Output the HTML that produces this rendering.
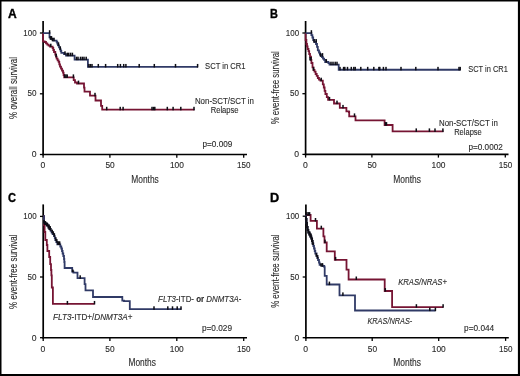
<!DOCTYPE html>
<html><head><meta charset="utf-8"><style>
html,body{margin:0;padding:0;background:#fff;}
body{width:520px;height:376px;overflow:hidden;}
svg{display:block;will-change:transform;}
text{font-family:"Liberation Sans",sans-serif;stroke:#2b2b2b;stroke-width:0.12px;}
</style></head><body>
<svg width="520" height="376" viewBox="0 0 520 376">
<rect x="0" y="0" width="520" height="376" fill="#fff"/>
<text x="8" y="17.6" font-size="12.4" textLength="8.7" lengthAdjust="spacingAndGlyphs" font-weight="bold" fill="#000" style="stroke:#000;stroke-width:0.35px">A</text>
<line x1="43.1" y1="21" x2="43.1" y2="155.3" stroke="#000" stroke-width="1.7"/>
<line x1="42.300000000000004" y1="154.5" x2="247" y2="154.5" stroke="#000" stroke-width="1.6"/>
<line x1="39.9" y1="33.0" x2="43.1" y2="33.0" stroke="#000" stroke-width="1.3"/>
<line x1="39.9" y1="93.8" x2="43.1" y2="93.8" stroke="#000" stroke-width="1.3"/>
<line x1="39.9" y1="154.5" x2="43.1" y2="154.5" stroke="#000" stroke-width="1.3"/>
<line x1="43.1" y1="154.5" x2="43.1" y2="157.7" stroke="#000" stroke-width="1.3"/>
<line x1="109.9" y1="154.5" x2="109.9" y2="157.7" stroke="#000" stroke-width="1.3"/>
<line x1="176.8" y1="154.5" x2="176.8" y2="157.7" stroke="#000" stroke-width="1.3"/>
<line x1="243.7" y1="154.5" x2="243.7" y2="157.7" stroke="#000" stroke-width="1.3"/>
<text x="36.6" y="35.7" font-size="9.0" text-anchor="end" textLength="13.3" lengthAdjust="spacingAndGlyphs" fill="#2b2b2b">100</text>
<text x="36.6" y="96.4" font-size="9.0" text-anchor="end" textLength="9.0" lengthAdjust="spacingAndGlyphs" fill="#2b2b2b">50</text>
<text x="36.6" y="157.1" font-size="9.0" text-anchor="end" textLength="4.8" lengthAdjust="spacingAndGlyphs" fill="#2b2b2b">0</text>
<text x="42.8" y="168.4" font-size="9.0" text-anchor="middle" textLength="4.8" lengthAdjust="spacingAndGlyphs" fill="#2b2b2b">0</text>
<text x="110.1" y="168.4" font-size="9.0" text-anchor="middle" textLength="9.3" lengthAdjust="spacingAndGlyphs" fill="#2b2b2b">50</text>
<text x="176.9" y="168.4" font-size="9.0" text-anchor="middle" textLength="14.0" lengthAdjust="spacingAndGlyphs" fill="#2b2b2b">100</text>
<text x="243.8" y="168.4" font-size="9.0" text-anchor="middle" textLength="13.5" lengthAdjust="spacingAndGlyphs" fill="#2b2b2b">150</text>
<text x="131.3" y="182.8" font-size="11.0" textLength="27.5" lengthAdjust="spacingAndGlyphs" fill="#2b2b2b">Months</text>
<text x="202.5" y="147" font-size="8.4" textLength="29.8" lengthAdjust="spacingAndGlyphs" fill="#2b2b2b">p=0.009</text>
<text x="205.1" y="68.6" font-size="9.0" textLength="40.4" lengthAdjust="spacingAndGlyphs" fill="#2b2b2b">SCT in CR1</text>
<text x="194.9" y="104.3" font-size="9.0" textLength="59.1" lengthAdjust="spacingAndGlyphs" fill="#2b2b2b">Non-SCT/SCT in</text>
<text x="210.7" y="113.3" font-size="9.0" textLength="27.9" lengthAdjust="spacingAndGlyphs" fill="#2b2b2b">Relapse</text>
<g transform="translate(16.6,118.9) rotate(-90)"><text x="0" y="0" font-size="10.2" textLength="61.9" lengthAdjust="spacingAndGlyphs" fill="#2b2b2b">% overall survival</text></g>
<path d="M43.1,33.1 V41.3 H44.7 V42 H46 V43.3 H47.3 V44.6 H48.6 V45.6 H50 V46.6 H52.6 V48 H53.3 V50 H54 V52 H55.3 V54.6 H56 V56.6 H56.6 V58.6 H57.6 V60.3 H58.6 V61.9 H59.3 V64.3 H60 V66.6 H61 V68.6 H62 V70.6 H63 V72.6 H63.6 V75 H64.2 V77.3 H73.7 V80.1 H75 V82.5 H77 V83.5 H84 V87.6 H84.5 V91.6 H90 V95.7 H95.5 V100.5 H101 V105.8 H102.2 V109.7 H194.5" fill="none" stroke="#761433" stroke-width="1.8" stroke-linejoin="miter" stroke-linecap="butt"/>
<path d="M43.1,33.1 H49.5 V37.3 H51 V39 H53.3 V40.6 H56.6 V41.8 H57.3 V43.5 H58 V45.3 H59 V47.3 H60 V49.3 H60.7 V51 H61.3 V52.8 H64 V54.2 H66 V55.6 H74.6 V59.6 H87.9 V66.85 H198" fill="none" stroke="#303a66" stroke-width="1.8" stroke-linejoin="miter" stroke-linecap="butt"/>
<rect x="48.85" y="30.20" width="1.5" height="3.50" fill="#0d0d14"/>
<rect x="49.55" y="36.10" width="1.5" height="3.50" fill="#0d0d14"/>
<rect x="50.75" y="36.10" width="1.5" height="3.50" fill="#0d0d14"/>
<rect x="51.65" y="37.70" width="1.5" height="3.50" fill="#0d0d14"/>
<rect x="53.25" y="37.70" width="1.5" height="3.50" fill="#0d0d14"/>
<rect x="57.75" y="42.40" width="1.5" height="3.50" fill="#0d0d14"/>
<rect x="59.55" y="46.40" width="1.5" height="3.50" fill="#0d0d14"/>
<rect x="64.25" y="51.30" width="1.5" height="3.50" fill="#0d0d14"/>
<rect x="66.55" y="52.70" width="1.5" height="3.50" fill="#0d0d14"/>
<rect x="67.95" y="52.70" width="1.5" height="3.50" fill="#0d0d14"/>
<rect x="69.85" y="52.70" width="1.5" height="3.50" fill="#0d0d14"/>
<rect x="71.65" y="52.70" width="1.5" height="3.50" fill="#0d0d14"/>
<rect x="75.75" y="56.70" width="1.5" height="3.50" fill="#0d0d14"/>
<rect x="77.25" y="56.70" width="1.5" height="3.50" fill="#0d0d14"/>
<rect x="79.75" y="56.70" width="1.5" height="3.50" fill="#0d0d14"/>
<rect x="81.55" y="56.70" width="1.5" height="3.50" fill="#0d0d14"/>
<rect x="83.25" y="56.70" width="1.5" height="3.50" fill="#0d0d14"/>
<rect x="85.45" y="56.70" width="1.5" height="3.50" fill="#0d0d14"/>
<rect x="88.15" y="63.95" width="1.5" height="3.50" fill="#0d0d14"/>
<rect x="89.65" y="63.95" width="1.5" height="3.50" fill="#0d0d14"/>
<rect x="91.25" y="63.95" width="1.5" height="3.50" fill="#0d0d14"/>
<rect x="97.55" y="63.95" width="1.5" height="3.50" fill="#0d0d14"/>
<rect x="104.85" y="63.95" width="1.5" height="3.50" fill="#0d0d14"/>
<rect x="116.95" y="63.95" width="1.5" height="3.50" fill="#0d0d14"/>
<rect x="119.65" y="63.95" width="1.5" height="3.50" fill="#0d0d14"/>
<rect x="122.95" y="63.95" width="1.5" height="3.50" fill="#0d0d14"/>
<rect x="125.15" y="63.95" width="1.5" height="3.50" fill="#0d0d14"/>
<rect x="138.45" y="63.95" width="1.5" height="3.50" fill="#0d0d14"/>
<rect x="153.55" y="63.95" width="1.5" height="3.50" fill="#0d0d14"/>
<rect x="174.75" y="63.95" width="1.5" height="3.50" fill="#0d0d14"/>
<rect x="196.85" y="63.95" width="1.5" height="3.50" fill="#0d0d14"/>
<rect x="64.05" y="74.40" width="1.5" height="3.50" fill="#0d0d14"/>
<rect x="65.25" y="74.40" width="1.5" height="3.50" fill="#0d0d14"/>
<rect x="66.45" y="74.40" width="1.5" height="3.50" fill="#0d0d14"/>
<rect x="72.65" y="74.40" width="1.5" height="3.50" fill="#0d0d14"/>
<rect x="50.05" y="43.70" width="1.5" height="3.50" fill="#0d0d14"/>
<rect x="55.45" y="53.70" width="1.5" height="3.50" fill="#0d0d14"/>
<rect x="77.75" y="80.60" width="1.5" height="3.50" fill="#0d0d14"/>
<rect x="94.25" y="92.80" width="1.5" height="3.50" fill="#0d0d14"/>
<rect x="105.95" y="106.80" width="1.5" height="3.50" fill="#0d0d14"/>
<rect x="119.45" y="106.80" width="1.5" height="3.50" fill="#0d0d14"/>
<rect x="122.35" y="106.80" width="1.5" height="3.50" fill="#0d0d14"/>
<rect x="151.25" y="106.80" width="1.5" height="3.50" fill="#0d0d14"/>
<rect x="152.75" y="106.80" width="1.5" height="3.50" fill="#0d0d14"/>
<rect x="154.05" y="106.80" width="1.5" height="3.50" fill="#0d0d14"/>
<rect x="166.55" y="106.80" width="1.5" height="3.50" fill="#0d0d14"/>
<rect x="172.35" y="106.80" width="1.5" height="3.50" fill="#0d0d14"/>
<rect x="180.05" y="106.80" width="1.5" height="3.50" fill="#0d0d14"/>
<rect x="193.25" y="106.80" width="1.5" height="3.50" fill="#0d0d14"/>
<text x="270.0" y="17.6" font-size="12.4" textLength="7.9" lengthAdjust="spacingAndGlyphs" font-weight="bold" fill="#000" style="stroke:#000;stroke-width:0.35px">B</text>
<line x1="305.6" y1="21" x2="305.6" y2="155.20000000000002" stroke="#000" stroke-width="1.7"/>
<line x1="304.8" y1="154.4" x2="508.5" y2="154.4" stroke="#000" stroke-width="1.6"/>
<line x1="302.40000000000003" y1="33.0" x2="305.6" y2="33.0" stroke="#000" stroke-width="1.3"/>
<line x1="302.40000000000003" y1="93.7" x2="305.6" y2="93.7" stroke="#000" stroke-width="1.3"/>
<line x1="302.40000000000003" y1="154.4" x2="305.6" y2="154.4" stroke="#000" stroke-width="1.3"/>
<line x1="305.6" y1="154.4" x2="305.6" y2="157.6" stroke="#000" stroke-width="1.3"/>
<line x1="371.9" y1="154.4" x2="371.9" y2="157.6" stroke="#000" stroke-width="1.3"/>
<line x1="438.4" y1="154.4" x2="438.4" y2="157.6" stroke="#000" stroke-width="1.3"/>
<line x1="505.3" y1="154.4" x2="505.3" y2="157.6" stroke="#000" stroke-width="1.3"/>
<text x="299.1" y="35.9" font-size="9.0" text-anchor="end" textLength="13.3" lengthAdjust="spacingAndGlyphs" fill="#2b2b2b">100</text>
<text x="299.1" y="96.4" font-size="9.0" text-anchor="end" textLength="9.0" lengthAdjust="spacingAndGlyphs" fill="#2b2b2b">50</text>
<text x="299.1" y="157.1" font-size="9.0" text-anchor="end" textLength="4.8" lengthAdjust="spacingAndGlyphs" fill="#2b2b2b">0</text>
<text x="305.4" y="168.3" font-size="9.0" text-anchor="middle" textLength="4.8" lengthAdjust="spacingAndGlyphs" fill="#2b2b2b">0</text>
<text x="372.1" y="168.3" font-size="9.0" text-anchor="middle" textLength="9.3" lengthAdjust="spacingAndGlyphs" fill="#2b2b2b">50</text>
<text x="438.5" y="168.3" font-size="9.0" text-anchor="middle" textLength="14.0" lengthAdjust="spacingAndGlyphs" fill="#2b2b2b">100</text>
<text x="505.4" y="168.3" font-size="9.0" text-anchor="middle" textLength="13.5" lengthAdjust="spacingAndGlyphs" fill="#2b2b2b">150</text>
<text x="393.3" y="182.5" font-size="11.0" textLength="27.7" lengthAdjust="spacingAndGlyphs" fill="#2b2b2b">Months</text>
<text x="468.5" y="149.9" font-size="8.4" textLength="34.3" lengthAdjust="spacingAndGlyphs" fill="#2b2b2b">p=0.0002</text>
<text x="468.3" y="72.4" font-size="9.0" textLength="39.5" lengthAdjust="spacingAndGlyphs" fill="#2b2b2b">SCT in CR1</text>
<text x="439" y="125.9" font-size="9.0" textLength="58.9" lengthAdjust="spacingAndGlyphs" fill="#2b2b2b">Non-SCT/SCT in</text>
<text x="454.2" y="134.9" font-size="9.0" textLength="27.6" lengthAdjust="spacingAndGlyphs" fill="#2b2b2b">Relapse</text>
<g transform="translate(279.0,124.3) rotate(-90)"><text x="0" y="0" font-size="10.2" textLength="73.1" lengthAdjust="spacingAndGlyphs" fill="#2b2b2b">% event-free survival</text></g>
<path d="M305.6,33.1 V40 H306.4 V44 H307 V46.4 H307.6 V49 H308.5 V51.1 H309.2 V54 H310 V56.7 H311 V59.9 H311.4 V63 H312.5 V67.3 H313.5 V70 H314.5 V71.6 H315.6 V74 H316.7 V75.9 H317.8 V78 H319 V79.6 H320.4 V80.6 H322.8 V84.4 H323.8 V87.5 H324.6 V90.8 H325.4 V94 H326.8 V97.1 H328.1 V99.8 H334 V103.5 H339.8 V107.8 H346.4 V111.3 H348.9 V112 H349.2 V116.3 H355.5 V120.4 H384.6 V125 H392.6 V131.3 H443.5" fill="none" stroke="#761433" stroke-width="1.8" stroke-linejoin="miter" stroke-linecap="butt"/>
<path d="M305.6,33.1 H311.4 V35.2 H312.4 V37.5 H313.2 V40 H314.5 V42 H316 V44 H317 V46.8 H317.8 V50.3 H319 V52.5 H319.9 V54.6 H321 V56 H322 V57.2 H323 V58.6 H324.1 V59.9 H325.2 V62 H328.4 V63.1 H329.5 V64.6 H338.7 V69.75 H460.6" fill="none" stroke="#303a66" stroke-width="1.8" stroke-linejoin="miter" stroke-linecap="butt"/>
<rect x="310.65" y="30.20" width="1.5" height="3.50" fill="#0d0d14"/>
<rect x="313.25" y="39.10" width="1.5" height="3.50" fill="#0d0d14"/>
<rect x="315.45" y="39.10" width="1.5" height="3.50" fill="#0d0d14"/>
<rect x="319.75" y="53.10" width="1.5" height="3.50" fill="#0d0d14"/>
<rect x="321.75" y="53.10" width="1.5" height="3.50" fill="#0d0d14"/>
<rect x="325.55" y="59.10" width="1.5" height="3.50" fill="#0d0d14"/>
<rect x="330.25" y="61.70" width="1.5" height="3.50" fill="#0d0d14"/>
<rect x="332.25" y="61.70" width="1.5" height="3.50" fill="#0d0d14"/>
<rect x="334.45" y="61.70" width="1.5" height="3.50" fill="#0d0d14"/>
<rect x="336.25" y="61.70" width="1.5" height="3.50" fill="#0d0d14"/>
<rect x="339.25" y="66.85" width="1.5" height="3.50" fill="#0d0d14"/>
<rect x="342.85" y="66.85" width="1.5" height="3.50" fill="#0d0d14"/>
<rect x="344.05" y="66.85" width="1.5" height="3.50" fill="#0d0d14"/>
<rect x="346.75" y="66.85" width="1.5" height="3.50" fill="#0d0d14"/>
<rect x="350.55" y="66.85" width="1.5" height="3.50" fill="#0d0d14"/>
<rect x="353.05" y="66.85" width="1.5" height="3.50" fill="#0d0d14"/>
<rect x="354.45" y="66.85" width="1.5" height="3.50" fill="#0d0d14"/>
<rect x="360.05" y="66.85" width="1.5" height="3.50" fill="#0d0d14"/>
<rect x="366.95" y="66.85" width="1.5" height="3.50" fill="#0d0d14"/>
<rect x="373.05" y="66.85" width="1.5" height="3.50" fill="#0d0d14"/>
<rect x="378.15" y="66.85" width="1.5" height="3.50" fill="#0d0d14"/>
<rect x="379.05" y="66.85" width="1.5" height="3.50" fill="#0d0d14"/>
<rect x="382.65" y="66.85" width="1.5" height="3.50" fill="#0d0d14"/>
<rect x="385.25" y="66.85" width="1.5" height="3.50" fill="#0d0d14"/>
<rect x="400.25" y="66.85" width="1.5" height="3.50" fill="#0d0d14"/>
<rect x="415.05" y="66.85" width="1.5" height="3.50" fill="#0d0d14"/>
<rect x="437.25" y="66.85" width="1.5" height="3.50" fill="#0d0d14"/>
<rect x="458.25" y="66.85" width="1.5" height="3.50" fill="#0d0d14"/>
<rect x="459.45" y="66.85" width="1.5" height="3.50" fill="#0d0d14"/>
<rect x="309.25" y="57.00" width="1.5" height="3.50" fill="#0d0d14"/>
<rect x="310.25" y="57.00" width="1.5" height="3.50" fill="#0d0d14"/>
<rect x="312.75" y="67.10" width="1.5" height="3.50" fill="#0d0d14"/>
<rect x="320.45" y="77.70" width="1.5" height="3.50" fill="#0d0d14"/>
<rect x="328.75" y="96.90" width="1.5" height="3.50" fill="#0d0d14"/>
<rect x="336.25" y="100.60" width="1.5" height="3.50" fill="#0d0d14"/>
<rect x="342.25" y="104.90" width="1.5" height="3.50" fill="#0d0d14"/>
<rect x="353.75" y="113.40" width="1.5" height="3.50" fill="#0d0d14"/>
<rect x="384.75" y="122.10" width="1.5" height="3.50" fill="#0d0d14"/>
<rect x="385.75" y="122.10" width="1.5" height="3.50" fill="#0d0d14"/>
<rect x="415.50" y="128.40" width="1.5" height="3.50" fill="#0d0d14"/>
<rect x="428.65" y="128.40" width="1.5" height="3.50" fill="#0d0d14"/>
<rect x="434.25" y="128.40" width="1.5" height="3.50" fill="#0d0d14"/>
<rect x="442.15" y="128.40" width="1.5" height="3.50" fill="#0d0d14"/>
<text x="8" y="201.5" font-size="12.4" textLength="8.0" lengthAdjust="spacingAndGlyphs" font-weight="bold" fill="#000" style="stroke:#000;stroke-width:0.35px">C</text>
<line x1="43.2" y1="204.4" x2="43.2" y2="338.5" stroke="#000" stroke-width="1.7"/>
<line x1="42.400000000000006" y1="337.7" x2="247" y2="337.7" stroke="#000" stroke-width="1.6"/>
<line x1="40.0" y1="216.4" x2="43.2" y2="216.4" stroke="#000" stroke-width="1.3"/>
<line x1="40.0" y1="277.0" x2="43.2" y2="277.0" stroke="#000" stroke-width="1.3"/>
<line x1="40.0" y1="337.7" x2="43.2" y2="337.7" stroke="#000" stroke-width="1.3"/>
<line x1="43.2" y1="337.7" x2="43.2" y2="340.9" stroke="#000" stroke-width="1.3"/>
<line x1="109.9" y1="337.7" x2="109.9" y2="340.9" stroke="#000" stroke-width="1.3"/>
<line x1="176.8" y1="337.7" x2="176.8" y2="340.9" stroke="#000" stroke-width="1.3"/>
<line x1="243.7" y1="337.7" x2="243.7" y2="340.9" stroke="#000" stroke-width="1.3"/>
<text x="36.6" y="219.1" font-size="9.0" text-anchor="end" textLength="13.3" lengthAdjust="spacingAndGlyphs" fill="#2b2b2b">100</text>
<text x="36.6" y="279.7" font-size="9.0" text-anchor="end" textLength="9.0" lengthAdjust="spacingAndGlyphs" fill="#2b2b2b">50</text>
<text x="36.6" y="340.5" font-size="9.0" text-anchor="end" textLength="4.8" lengthAdjust="spacingAndGlyphs" fill="#2b2b2b">0</text>
<text x="42.9" y="351.6" font-size="9.0" text-anchor="middle" textLength="4.8" lengthAdjust="spacingAndGlyphs" fill="#2b2b2b">0</text>
<text x="110.0" y="351.6" font-size="9.0" text-anchor="middle" textLength="9.3" lengthAdjust="spacingAndGlyphs" fill="#2b2b2b">50</text>
<text x="176.8" y="351.6" font-size="9.0" text-anchor="middle" textLength="14.0" lengthAdjust="spacingAndGlyphs" fill="#2b2b2b">100</text>
<text x="243.8" y="351.6" font-size="9.0" text-anchor="middle" textLength="13.5" lengthAdjust="spacingAndGlyphs" fill="#2b2b2b">150</text>
<text x="128.5" y="366" font-size="11.0" textLength="27.4" lengthAdjust="spacingAndGlyphs" fill="#2b2b2b">Months</text>
<text x="201.9" y="331.2" font-size="8.4" textLength="30.1" lengthAdjust="spacingAndGlyphs" fill="#2b2b2b">p=0.029</text>
<g transform="translate(16.6,308.9) rotate(-90)"><text x="0" y="0" font-size="10.2" textLength="74.3" lengthAdjust="spacingAndGlyphs" fill="#2b2b2b">% event-free survival</text></g>
<text x="158.1" y="302.1" font-size="8.8" fill="#2b2b2b" textLength="83.4" lengthAdjust="spacingAndGlyphs"><tspan font-style="italic">FLT3</tspan>-ITD- <tspan font-weight="bold">or</tspan> <tspan font-style="italic">DNMT3A</tspan>-</text>
<text x="53.1" y="320.2" font-size="8.8" fill="#2b2b2b" textLength="79.4" lengthAdjust="spacingAndGlyphs"><tspan font-style="italic">FLT3</tspan>-ITD+/<tspan font-style="italic">DNMT3A</tspan>+</text>
<path d="M43.2,216.2 H44 V225 H44.6 V232 H45.3 V240 H46.8 V245 H47.4 V251 H49.2 V257 H50.2 V264.2 H51 V270 H51.4 V275.4 H51.8 V287.5 H52.9 V303.85 H94.5" fill="none" stroke="#761433" stroke-width="1.8" stroke-linejoin="miter" stroke-linecap="butt"/>
<path d="M43.2,216.2 H44 V222.6 H45.5 V224 H47.3 V225.5 H48.5 V227.5 H49.5 V229 H50.6 V230.8 H51.6 V232.5 H52.6 V234.2 H54 V236.2 H54.8 V238 H55.3 V240.2 H56.3 V242 H57.3 V244.3 H60.3 V246.5 H61.3 V248.5 H62 V251 H62.6 V253.5 H63.3 V256 H64 V259 H64.3 V262 H64.6 V268 H72.2 V271.6 H73.4 V272.6 H77.5 V278.2 H84.6 V284.2 H85.5 V290.3 H93 V297 H122.3 V300.6 H124 V301.2 H129.8 V309.2 H181.3" fill="none" stroke="#303a66" stroke-width="1.8" stroke-linejoin="miter" stroke-linecap="butt"/>
<path d="M44,220 V222.6 H45.5 V224 H47.3 V225.5 H48.5 V227.5 H49.5 V229 H50.6 V230.8" fill="none" stroke="#101018" stroke-width="1.8"/>
<rect x="43.85" y="221.10" width="1.5" height="3.50" fill="#0d0d14"/>
<rect x="44.55" y="221.10" width="1.5" height="3.50" fill="#0d0d14"/>
<rect x="45.75" y="222.60" width="1.5" height="3.50" fill="#0d0d14"/>
<rect x="46.45" y="222.60" width="1.5" height="3.50" fill="#0d0d14"/>
<rect x="48.25" y="224.60" width="1.5" height="3.50" fill="#0d0d14"/>
<rect x="49.45" y="226.10" width="1.5" height="3.50" fill="#0d0d14"/>
<rect x="51.45" y="229.60" width="1.5" height="3.50" fill="#0d0d14"/>
<rect x="52.55" y="231.30" width="1.5" height="3.50" fill="#0d0d14"/>
<rect x="53.65" y="233.30" width="1.5" height="3.50" fill="#0d0d14"/>
<rect x="55.05" y="237.30" width="1.5" height="3.50" fill="#0d0d14"/>
<rect x="56.05" y="239.10" width="1.5" height="3.50" fill="#0d0d14"/>
<rect x="57.15" y="241.40" width="1.5" height="3.50" fill="#0d0d14"/>
<rect x="58.05" y="241.40" width="1.5" height="3.50" fill="#0d0d14"/>
<rect x="58.95" y="241.40" width="1.5" height="3.50" fill="#0d0d14"/>
<rect x="71.90" y="269.60" width="1.8" height="2.60" fill="#0d0d14"/>
<rect x="79.45" y="275.30" width="1.5" height="3.50" fill="#0d0d14"/>
<rect x="153.25" y="306.30" width="1.5" height="3.50" fill="#0d0d14"/>
<rect x="167.05" y="306.30" width="1.5" height="3.50" fill="#0d0d14"/>
<rect x="171.75" y="306.30" width="1.5" height="3.50" fill="#0d0d14"/>
<rect x="176.45" y="306.30" width="1.5" height="3.50" fill="#0d0d14"/>
<rect x="180.25" y="306.30" width="1.5" height="3.50" fill="#0d0d14"/>
<rect x="66.65" y="300.95" width="1.5" height="3.50" fill="#0d0d14"/>
<rect x="93.75" y="300.95" width="1.5" height="3.50" fill="#0d0d14"/>
<text x="270.0" y="201.5" font-size="12.4" textLength="9.2" lengthAdjust="spacingAndGlyphs" font-weight="bold" fill="#000" style="stroke:#000;stroke-width:0.35px">D</text>
<line x1="305.9" y1="204.4" x2="305.9" y2="338.5" stroke="#000" stroke-width="1.7"/>
<line x1="305.09999999999997" y1="337.7" x2="508.8" y2="337.7" stroke="#000" stroke-width="1.6"/>
<line x1="302.7" y1="216.2" x2="305.9" y2="216.2" stroke="#000" stroke-width="1.3"/>
<line x1="302.7" y1="277.0" x2="305.9" y2="277.0" stroke="#000" stroke-width="1.3"/>
<line x1="302.7" y1="337.7" x2="305.9" y2="337.7" stroke="#000" stroke-width="1.3"/>
<line x1="305.9" y1="337.7" x2="305.9" y2="340.9" stroke="#000" stroke-width="1.3"/>
<line x1="372.2" y1="337.7" x2="372.2" y2="340.9" stroke="#000" stroke-width="1.3"/>
<line x1="438.7" y1="337.7" x2="438.7" y2="340.9" stroke="#000" stroke-width="1.3"/>
<line x1="505.6" y1="337.7" x2="505.6" y2="340.9" stroke="#000" stroke-width="1.3"/>
<text x="299.3" y="219.1" font-size="9.0" text-anchor="end" textLength="13.3" lengthAdjust="spacingAndGlyphs" fill="#2b2b2b">100</text>
<text x="299.3" y="279.7" font-size="9.0" text-anchor="end" textLength="9.0" lengthAdjust="spacingAndGlyphs" fill="#2b2b2b">50</text>
<text x="299.3" y="340.5" font-size="9.0" text-anchor="end" textLength="4.8" lengthAdjust="spacingAndGlyphs" fill="#2b2b2b">0</text>
<text x="305.7" y="351.6" font-size="9.0" text-anchor="middle" textLength="4.8" lengthAdjust="spacingAndGlyphs" fill="#2b2b2b">0</text>
<text x="372.4" y="351.6" font-size="9.0" text-anchor="middle" textLength="9.3" lengthAdjust="spacingAndGlyphs" fill="#2b2b2b">50</text>
<text x="438.8" y="351.6" font-size="9.0" text-anchor="middle" textLength="14.0" lengthAdjust="spacingAndGlyphs" fill="#2b2b2b">100</text>
<text x="505.7" y="351.6" font-size="9.0" text-anchor="middle" textLength="13.5" lengthAdjust="spacingAndGlyphs" fill="#2b2b2b">150</text>
<text x="393.3" y="366" font-size="11.0" textLength="27.7" lengthAdjust="spacingAndGlyphs" fill="#2b2b2b">Months</text>
<text x="464.1" y="331" font-size="8.4" textLength="30.1" lengthAdjust="spacingAndGlyphs" fill="#2b2b2b">p=0.044</text>
<g transform="translate(279.0,307.8) rotate(-90)"><text x="0" y="0" font-size="10.2" textLength="73.3" lengthAdjust="spacingAndGlyphs" fill="#2b2b2b">% event-free survival</text></g>
<text x="398.2" y="285" font-size="8.8" textLength="48.7" lengthAdjust="spacingAndGlyphs" font-style="italic" fill="#2b2b2b">KRAS/NRAS+</text>
<text x="367.4" y="323.8" font-size="8.8" textLength="44.9" lengthAdjust="spacingAndGlyphs" font-style="italic" fill="#2b2b2b">KRAS/NRAS-</text>
<path d="M305.9,215.0 H310.6 V220.9 H316.9 V228.6 H323.4 V236.3 H324.5 V242.5 H326.7 V251.3 H334.8 V259.8 H346.5 V269.7 H348.6 V279.5 H384.7 V291 H392.1 V307.1 H443.3" fill="none" stroke="#761433" stroke-width="1.8" stroke-linejoin="miter" stroke-linecap="butt"/>
<path d="M305.9,215.3 V219 H306.5 V223 H307 V227 H307.6 V230 H308.3 V232.5 H309.3 V234.5 H310.3 V236.5 H311.3 V238.5 H312 V241 H312.6 V243.5 H313.3 V246 H314 V248.5 H314.7 V251 H315.3 V253.5 H316.6 V256 H317.3 V258 H318 V260 H319 V262.5 H319.6 V264.8 H322.3 V266 H324.3 V267.2 H324.7 V275.8 H326.7 V284.5 H339.5 V295.3 H355 V310.5 H435.6" fill="none" stroke="#303a66" stroke-width="1.8" stroke-linejoin="miter" stroke-linecap="butt"/>
<path d="M305.9,216 V219 H306.5 V223 H307 V227 H307.6 V230 H308.3 V232.5 H309.3 V234.5 H310.3 V236.5 H311.3 V238.5 H312 V241 H312.6 V243.5 H313.1 V245" fill="none" stroke="#101018" stroke-width="1.9"/>
<rect x="306.05" y="212.10" width="1.5" height="3.50" fill="#0d0d14"/>
<rect x="307.45" y="212.10" width="1.5" height="3.50" fill="#0d0d14"/>
<rect x="308.85" y="212.10" width="1.5" height="3.50" fill="#0d0d14"/>
<rect x="314.75" y="218.00" width="1.5" height="3.50" fill="#0d0d14"/>
<rect x="320.55" y="225.70" width="1.5" height="3.50" fill="#0d0d14"/>
<rect x="324.25" y="239.60" width="1.5" height="3.50" fill="#0d0d14"/>
<rect x="334.85" y="256.90" width="1.5" height="3.50" fill="#0d0d14"/>
<rect x="355.55" y="276.50" width="1.5" height="3.50" fill="#0d0d14"/>
<rect x="384.55" y="288.10" width="1.5" height="3.50" fill="#0d0d14"/>
<rect x="415.65" y="304.20" width="1.5" height="3.50" fill="#0d0d14"/>
<rect x="442.35" y="304.20" width="1.5" height="3.50" fill="#0d0d14"/>
<rect x="309.05" y="231.60" width="1.5" height="3.50" fill="#0d0d14"/>
<rect x="310.25" y="233.60" width="1.5" height="3.50" fill="#0d0d14"/>
<rect x="311.55" y="238.10" width="1.5" height="3.50" fill="#0d0d14"/>
<rect x="315.55" y="253.10" width="1.5" height="3.50" fill="#0d0d14"/>
<rect x="316.85" y="255.10" width="1.5" height="3.50" fill="#0d0d14"/>
<rect x="320.25" y="263.10" width="1.5" height="3.50" fill="#0d0d14"/>
<rect x="321.75" y="263.10" width="1.5" height="3.50" fill="#0d0d14"/>
<rect x="328.65" y="281.60" width="1.5" height="3.50" fill="#0d0d14"/>
<rect x="342.15" y="292.40" width="1.5" height="3.50" fill="#0d0d14"/>
<rect x="429.05" y="307.60" width="1.5" height="3.50" fill="#0d0d14"/>
<rect x="434.65" y="307.60" width="1.5" height="3.50" fill="#0d0d14"/>
<rect x="0.75" y="0.75" width="517.9" height="374" fill="none" stroke="#000" stroke-width="1.5"/>
<line x1="519.1" y1="0" x2="519.1" y2="376" stroke="#000" stroke-width="1.8"/>
<line x1="0" y1="375.1" x2="520" y2="375.1" stroke="#000" stroke-width="1.8"/>
</svg>
</body></html>
